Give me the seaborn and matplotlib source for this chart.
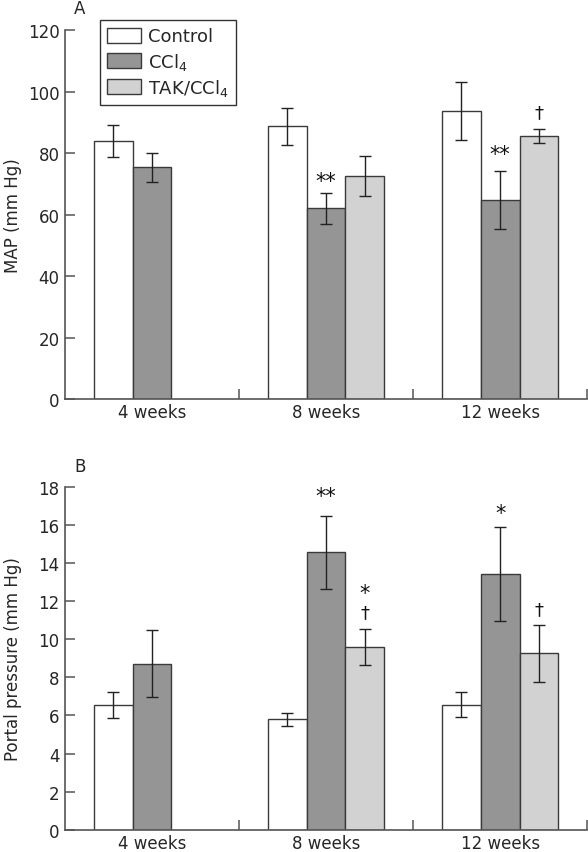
import matplotlib
matplotlib.use("Agg")
import matplotlib.pyplot as plt
import numpy as np
import pandas as pd
import seaborn as sns

# Data
weeks = ["4 weeks", "8 weeks", "12 weeks"]
groups = ["Control", "CCl$_4$", "TAK/CCl$_4$"]
colors = ["#ffffff", "#959595", "#d2d2d2"]

# mean arterial pressure (mm Hg), rows = groups, cols = weeks
map_mean = [[83.8, 88.7, 93.6],
            [75.4, 62.0, 64.7],
            [np.nan, 72.5, 85.6]]
map_sd = [[5.2, 6.0, 9.5],
          [4.7, 5.0, 9.5],
          [np.nan, 6.6, 2.3]]

# portal pressure (mm Hg)
pp_mean = [[6.56, 5.79, 6.56],
           [8.71, 14.55, 13.43],
           [np.nan, 9.58, 9.25]]
pp_sd = [[0.69, 0.33, 0.66],
         [1.77, 1.9, 2.45],
         [np.nan, 0.95, 1.5]]

# significance marks: (week, group, text, y)
map_marks = [("8 weeks", "CCl$_4$", "**", 71.0),
             ("12 weeks", "CCl$_4$", "**", 79.7),
             ("12 weeks", "TAK/CCl$_4$", "†", 93.3)]
pp_marks = [("8 weeks", "CCl$_4$", "**", 17.5),
            ("8 weeks", "TAK/CCl$_4$", "*", 12.4),
            ("8 weeks", "TAK/CCl$_4$", "†", 11.4),
            ("12 weeks", "CCl$_4$", "*", 16.6),
            ("12 weeks", "TAK/CCl$_4$", "†", 11.6)]


def to_frame(mean, sd):
    rows = []
    for g, m_row, s_row in zip(groups, mean, sd):
        for w, m, s in zip(weeks, m_row, s_row):
            rows.append({"week": w, "group": g, "value": m, "sd": s})
    return pd.DataFrame(rows)


sns.set_style("white")
plt.rcParams["font.family"] = ["DejaVu Sans"]
plt.rcParams["font.size"] = 11.5

EDGE = "#3a3a3a"
SPINE = "#555555"


def draw_panel(ax, df, marks, ylim, yticks, ylabel, letter, legend):
    sns.barplot(data=df.dropna(), x="week", y="value", hue="group",
                order=weeks, hue_order=groups, palette=colors,
                width=0.67, edgecolor=EDGE, linewidth=1.0,
                errorbar=None, legend=legend, ax=ax)

    centers = {}
    for g, container in zip(groups, ax.containers):
        sub = df[df.group == g].dropna()
        for bar, (_, row) in zip(container, sub.iterrows()):
            x = bar.get_x() + bar.get_width() / 2
            centers[(row.week, g)] = x
            ax.errorbar(x, row.value, yerr=row.sd, color="#222222",
                        elinewidth=1.0, capsize=4.5, capthick=1.0)

    for w, g, txt, y in marks:
        size = 15 if "*" in txt else 13
        ax.text(centers[(w, g)], y, txt, ha="center", va="center",
                fontsize=size, color="#111111")

    ax.set_xlim(-0.5, 2.5)
    ax.set_ylim(*ylim)
    ax.set_yticks(yticks)
    ax.set_xlabel("")
    ax.set_ylabel(ylabel, fontsize=12)
    ax.yaxis.set_label_coords(-0.082, 0.5)
    sns.despine(ax=ax)
    for s in ["left", "bottom"]:
        ax.spines[s].set_color(SPINE)
        ax.spines[s].set_linewidth(1.2)
    ax.tick_params(axis="y", direction="in", length=7, width=1.1,
                   color=SPINE, labelsize=12, pad=4, left=True)
    ax.tick_params(axis="x", which="major", length=0, labelsize=12, pad=3)
    ax.set_xticks([0.5, 1.5, 2.5], minor=True)
    ax.tick_params(axis="x", which="minor", direction="in", length=7,
                   width=1.1, color=SPINE, bottom=True)
    ax.text(0.028, 1.06, letter, transform=ax.transAxes, fontsize=12,
            ha="center", va="center")


fig = plt.figure(figsize=(5.88, 8.53), dpi=100)
ax1 = fig.add_axes([0.1105, 0.531, 0.888, 0.4326])
ax2 = fig.add_axes([0.1105, 0.0261, 0.888, 0.4021])

draw_panel(ax1, to_frame(map_mean, map_sd), map_marks, (0, 120),
           np.arange(0, 121, 20), "MAP (mm Hg)", "A", True)
draw_panel(ax2, to_frame(pp_mean, pp_sd), pp_marks, (0, 18),
           np.arange(0, 19, 2), "Portal pressure (mm Hg)", "B", False)

handles, labels = ax1.get_legend_handles_labels()
ax1.legend(handles, labels, loc="upper left", bbox_to_anchor=(0.067, 1.027),
           borderaxespad=0, fontsize=13, frameon=True, fancybox=False,
           framealpha=1, edgecolor="#333333", handlelength=1.85,
           handleheight=0.9, labelspacing=0.3, handletextpad=0.4,
           borderpad=0.4)
ax1.get_legend().get_frame().set_linewidth(1.0)

plt.savefig("out.png", dpi=100)
plt.close()
